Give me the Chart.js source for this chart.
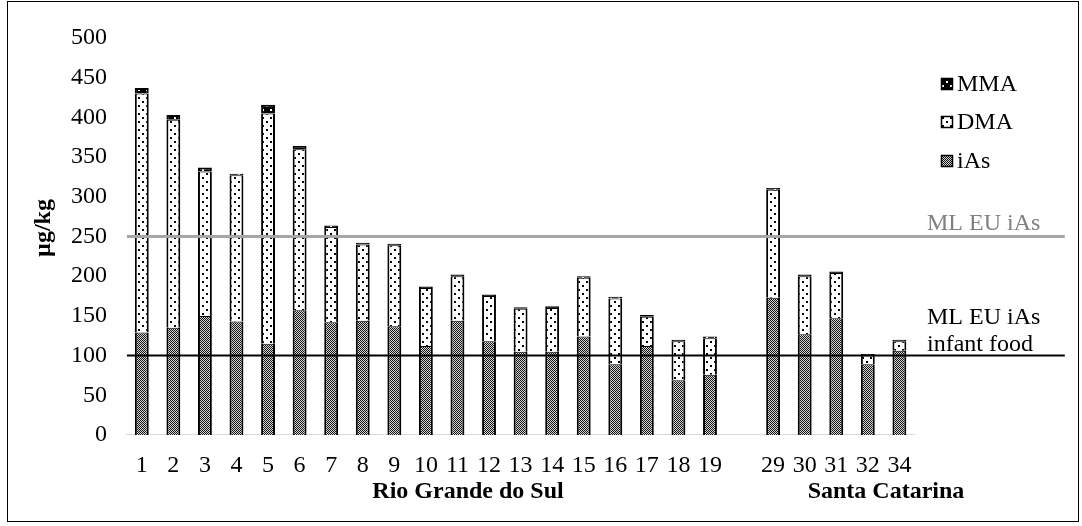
<!DOCTYPE html>
<html><head><meta charset="utf-8">
<script src="https://cdn.jsdelivr.net/npm/chart.js@4.4.0/dist/chart.umd.min.js"></script>
<style>
html,body{margin:0;padding:0;background:#fff;}
#wrap{position:absolute;left:0;top:0;width:1082px;height:526px;}
#frame{position:absolute;left:7px;top:1px;width:1072px;height:521px;border:1px solid #000;box-sizing:border-box;pointer-events:none;}
</style></head><body>
<div id="wrap"><canvas id="c" width="1082" height="526"></canvas><div id="frame"></div></div>
<script>
// ---- data ----
const categories = ['1','2','3','4','5','6','7','8','9','10','11','12','13','14','15','16','17','18','19','','29','30','31','32','34'];
const iAs = [129,135,150,143,115,157,142,144,137,112,144,118,105,105,124,89,112,69,76,null,173,127,147,89,106];
const DMA = [301,262,182,184,290,203,120,96,102,73,56,57,54,55,74,83,37,49,46,null,136,73,57,11,12];
const MMA = [7,6,5,2,11,4,2,2,2,2,2,2,2,2,2,2,2,2,2,null,2,2,2,2,2];
const yTicks = [0,50,100,150,200,250,300,350,400,450,500];
const limitGeneral = 250;   // ML EU iAs
const limitInfant = 100;    // ML EU iAs infant food
const groupLabels = ['Rio Grande do Sul','Santa Catarina'];

// ---- patterns ----
function makePattern(w,h,draw){
  const c=document.createElement('canvas'); c.width=w; c.height=h;
  const g=c.getContext('2d'); draw(g); return g.createPattern(c,'repeat');
}
const patChecker = makePattern(2,2,g=>{g.fillStyle='#d8d8d8';g.fillRect(0,0,2,2);g.fillStyle='#111';g.fillRect(0,0,1,1);g.fillRect(1,1,1,1);});
const patDots = makePattern(8,8,g=>{g.fillStyle='#fff';g.fillRect(0,0,8,8);g.fillStyle='#000';g.fillRect(2,1,2,2);g.fillRect(6,5,2,2);});
const patDotsInv = makePattern(8,8,g=>{g.fillStyle='#000';g.fillRect(0,0,8,8);g.fillStyle='#fff';g.fillRect(2,1,2,2);g.fillRect(6,5,2,2);});

const SERIF = '"Liberation Serif", "Times New Roman", serif';
const nSlots = categories.length + 5; // extra room at right for legend/labels
const toPts = arr => arr.map((v,i)=>({x:i+1,y:v})).filter(p=>p.y!==null);
const xTickValues = categories.map((c,i)=>c===''?null:i+1).filter(v=>v!==null);

const overlay = {
  id:'overlay',
  afterDraw(chart){
    const ctx=chart.ctx, y=chart.scales.y;
    ctx.save();
    // legend
    const items=[{t:'MMA',p:patDotsInv,y:84},{t:'DMA',p:patDots,y:122},{t:'iAs',p:patChecker,y:161}];
    ctx.font='24px '+SERIF; ctx.textBaseline='middle';
    items.forEach(it=>{
      ctx.fillStyle=it.p; ctx.fillRect(941,it.y-6,12,12);
      ctx.strokeStyle='#000'; ctx.lineWidth=1.5; ctx.strokeRect(941.5,it.y-5.5,11,11);
      ctx.fillStyle='#000'; ctx.fillText(it.t,957,it.y+1);
    });
    // reference line labels
    ctx.textBaseline='alphabetic'; ctx.textAlign='left';
    ctx.fillStyle='#808080';
    ctx.fillText('ML EU iAs',927,y.getPixelForValue(limitGeneral)-7);
    ctx.fillStyle='#000';
    ctx.fillText('ML EU iAs',927,y.getPixelForValue(limitInfant)-32);
    ctx.fillText('infant food',927,y.getPixelForValue(limitInfant)-5);
    // group labels
    ctx.font='bold 24px '+SERIF; ctx.textAlign='center';
    ctx.fillText(groupLabels[0],468,498);
    ctx.fillText(groupLabels[1],886,498);
    // y title
    ctx.translate(44,228); ctx.rotate(-Math.PI/2);
    ctx.textBaseline='middle';
    ctx.fillText('µg/kg',0,0);
    ctx.restore();
  }
};

const bw = (t)=>({top:t,left:2,right:2,bottom:0});
const barCommon = {borderColor:'#000',borderSkipped:false,barPercentage:0.44,categoryPercentage:1,order:0};
new Chart(document.getElementById('c'),{
  type:'bar',
  data:{
    datasets:[
      Object.assign({label:'iAs',data:toPts(iAs),backgroundColor:patChecker,borderWidth:bw(1)},barCommon),
      Object.assign({label:'DMA',data:toPts(DMA),backgroundColor:patDots,borderWidth:bw(1)},barCommon),
      Object.assign({label:'MMA',data:toPts(MMA),backgroundColor:patDotsInv,borderWidth:bw(2)},barCommon),
      {type:'line',label:'axis',stack:'axis',data:[{x:0.5,y:0},{x:categories.length+0.5,y:0}],borderColor:'#d9d9d9',borderWidth:2,pointRadius:0,fill:false,order:1},
      {type:'line',label:'ML EU iAs',stack:'ref1',data:[{x:0.53,y:limitGeneral},{x:30.24,y:limitGeneral}],borderColor:'#a6a6a6',borderWidth:3,pointRadius:0,fill:false,order:-1},
      {type:'line',label:'ML EU iAs infant food',stack:'ref2',data:[{x:0.53,y:limitInfant},{x:30.24,y:limitInfant}],borderColor:'#000',borderWidth:2,pointRadius:0,fill:false,order:-1}
    ]
  },
  options:{
    responsive:false, animation:false, devicePixelRatio:1,
    layout:{padding:{left:10,right:9,top:38,bottom:0}},
    plugins:{legend:{display:false},tooltip:{enabled:false}},
    scales:{
      x:{type:'linear',stacked:true,offset:false,min:0.5,max:nSlots+0.5,
         grid:{display:false,drawTicks:false,offset:false},border:{display:false},
         afterBuildTicks:s=>{s.ticks=xTickValues.map(v=>({value:v}));},
         ticks:{autoSkip:false,maxRotation:0,padding:16,color:'#000',font:{family:SERIF,size:24},
                callback:v=>categories[Math.round(v)-1]},
         afterFit:s=>{s.height=91;}},
      y:{stacked:true,min:0,max:500,
         afterBuildTicks:s=>{s.ticks=yTicks.map(v=>({value:v}));},
         grid:{display:false,drawTicks:false},border:{display:false},
         ticks:{padding:19,color:'#000',font:{family:SERIF,size:24}},
         afterFit:s=>{s.width=116;}}
    }
  },
  plugins:[overlay]
});
</script>
</body></html>
